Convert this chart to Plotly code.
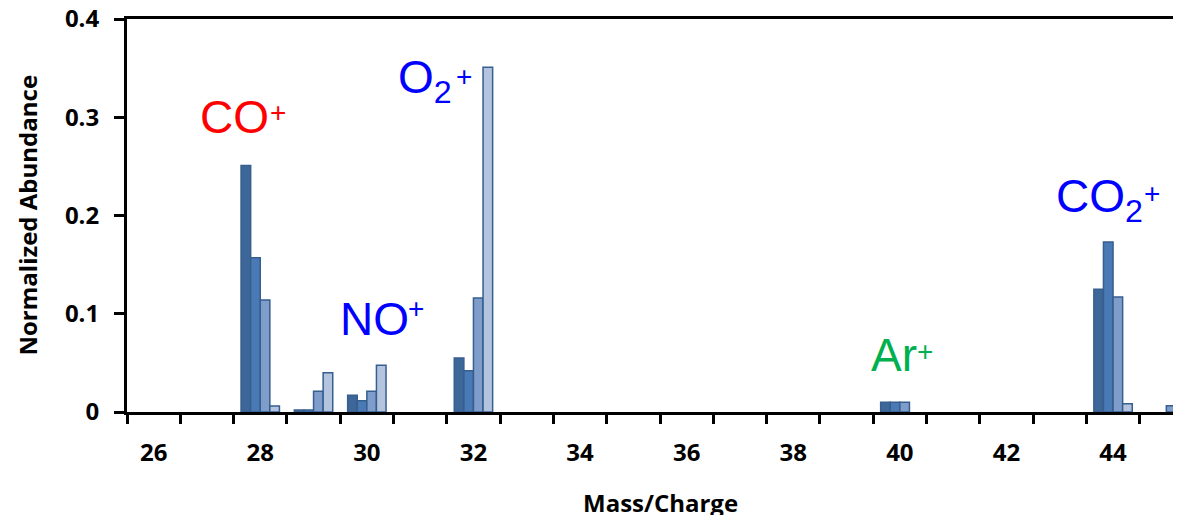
import plotly.graph_objects as go

# Categories (mass/charge) and four series of normalized abundance (None = no bar)
mass = list(range(26, 46))
series_a = [None, None, 0.251, 0.002, 0.017, None, 0.055, None, None, None, None, None, None, None, 0.010, None, None, None, 0.125, None]
series_b = [None, None, 0.157, 0.002, 0.0115, None, 0.042, None, None, None, None, None, None, None, 0.010, None, None, None, 0.173, None]
series_c = [None, None, 0.114, 0.021, 0.021, None, 0.116, None, None, None, None, None, None, None, 0.010, None, None, None, 0.117, 0.0064]
series_d = [None, None, 0.006, 0.040, 0.0475, None, 0.351, None, None, None, None, None, None, None, None, None, None, None, 0.0085, 0.001]

x_tick_vals = [26, 28, 30, 32, 34, 36, 38, 40, 42, 44]
x_tick_text = [str(v) for v in x_tick_vals]
y_tick_vals = [0, 0.1, 0.2, 0.3, 0.4]
y_tick_text = ["0", "0.1", "0.2", "0.3", "0.4"]

colors = ["#3E6799", "#4A7AB5", "#7F9DCA", "#B4C4DF"]
outline = "#365E8E"

fig = go.Figure()
for name, vals, col in zip(["A", "B", "C", "D"], [series_a, series_b, series_c, series_d], colors):
    fig.add_trace(go.Bar(x=mass, y=vals, name=name, marker=dict(color=col, line=dict(color=outline, width=1.5))))

boundaries = [m - 0.5 for m in mass] + [mass[-1] + 0.5]

# page body has an 8px margin: lay out in screen pixels minus that offset
OFF = 8
W, H = 1181, 515
PL, PT, PB = 127, 19, 412          # plot edges on screen
L, R, T = PL - OFF, 0, PT - OFF
B = H - (PB - OFF)
cat_px = 53.3
plot_w = W - L - R
plot_h = PB - PT
x0 = mass[0] - 0.5
x1 = x0 + plot_w / cat_px

bold24 = dict(family="Open Sans", size=24, color="black", weight="bold")

fig.update_layout(
    width=W, height=H,
    margin=dict(l=L, r=R, t=T, b=B, pad=0, autoexpand=False),
    paper_bgcolor="white", plot_bgcolor="white",
    showlegend=False,
    barmode="group", bargap=0.28, bargroupgap=0,
    xaxis=dict(
        range=[x0, x1], tickmode="array", tickvals=x_tick_vals, ticktext=x_tick_text,
        ticks="", showgrid=False, zeroline=False, automargin=False,
        showline=True, linecolor="black", linewidth=3, mirror=True,
        tickfont=bold24, ticklabelstandoff=17, ticklabeloverflow="allow",
        minor=dict(tickmode="array", tickvals=boundaries, ticks="outside", ticklen=9,
                   tickwidth=3, tickcolor="black", showgrid=False),
    ),
    yaxis=dict(
        range=[0, 0.4], tickmode="array", tickvals=y_tick_vals, ticktext=y_tick_text,
        ticks="outside", ticklen=10, tickwidth=3, tickcolor="black", automargin=False,
        showgrid=False, zeroline=False, showline=True, linecolor="black", linewidth=3,
        tickfont=bold24, ticklabelstandoff=10, ticklabeloverflow="allow",
    ),
)

def px_x(p):
    return x0 + (p - PL) / cat_px

def px_y(p):
    return (PB - p) / (plot_h / 0.4)

ann_font = lambda c, s=46: dict(family="Liberation Sans", size=s, color=c)
red, blue, green = "#FF0000", "#0000FF", "#00B050"

# (text, left x, anchor y, colour) on screen; plus signs as (centre x, centre y)
labels = [
    ("CO", 198, 117, red), ("NO", 338, 319, blue), ("O<sub>2</sub>", 396, 80, blue),
    ("Ar", 869, 355, green), ("CO<sub>2</sub>", 1054, 199, blue),
]
plus = [(278, 112, red), (416, 308, blue), (464, 76, blue), (925, 351, green), (1152, 193, blue)]

for txt, sx, sy, c in labels:
    fig.add_annotation(text=txt, x=px_x(sx), y=px_y(sy), xref="x", yref="y", xanchor="left",
                       yanchor="middle", showarrow=False, font=ann_font(c))
for sx, sy, c in plus:
    fig.add_annotation(text="+", x=px_x(sx), y=px_y(sy), xref="x", yref="y", xanchor="center",
                       yanchor="middle", showarrow=False, font=ann_font(c, 28))

fig.add_annotation(text="Mass/Charge", xref="paper", yref="paper",
                   x=(660 - PL) / plot_w, y=-(502 - PB) / plot_h,
                   xanchor="center", yanchor="middle", showarrow=False, font=bold24)
fig.add_annotation(text="Normalized Abundance", xref="paper", yref="paper",
                   x=(27 - PL) / plot_w, y=0.5, textangle=-90,
                   xanchor="center", yanchor="middle", showarrow=False, font=bold24)

fig.write_html("out.html")
